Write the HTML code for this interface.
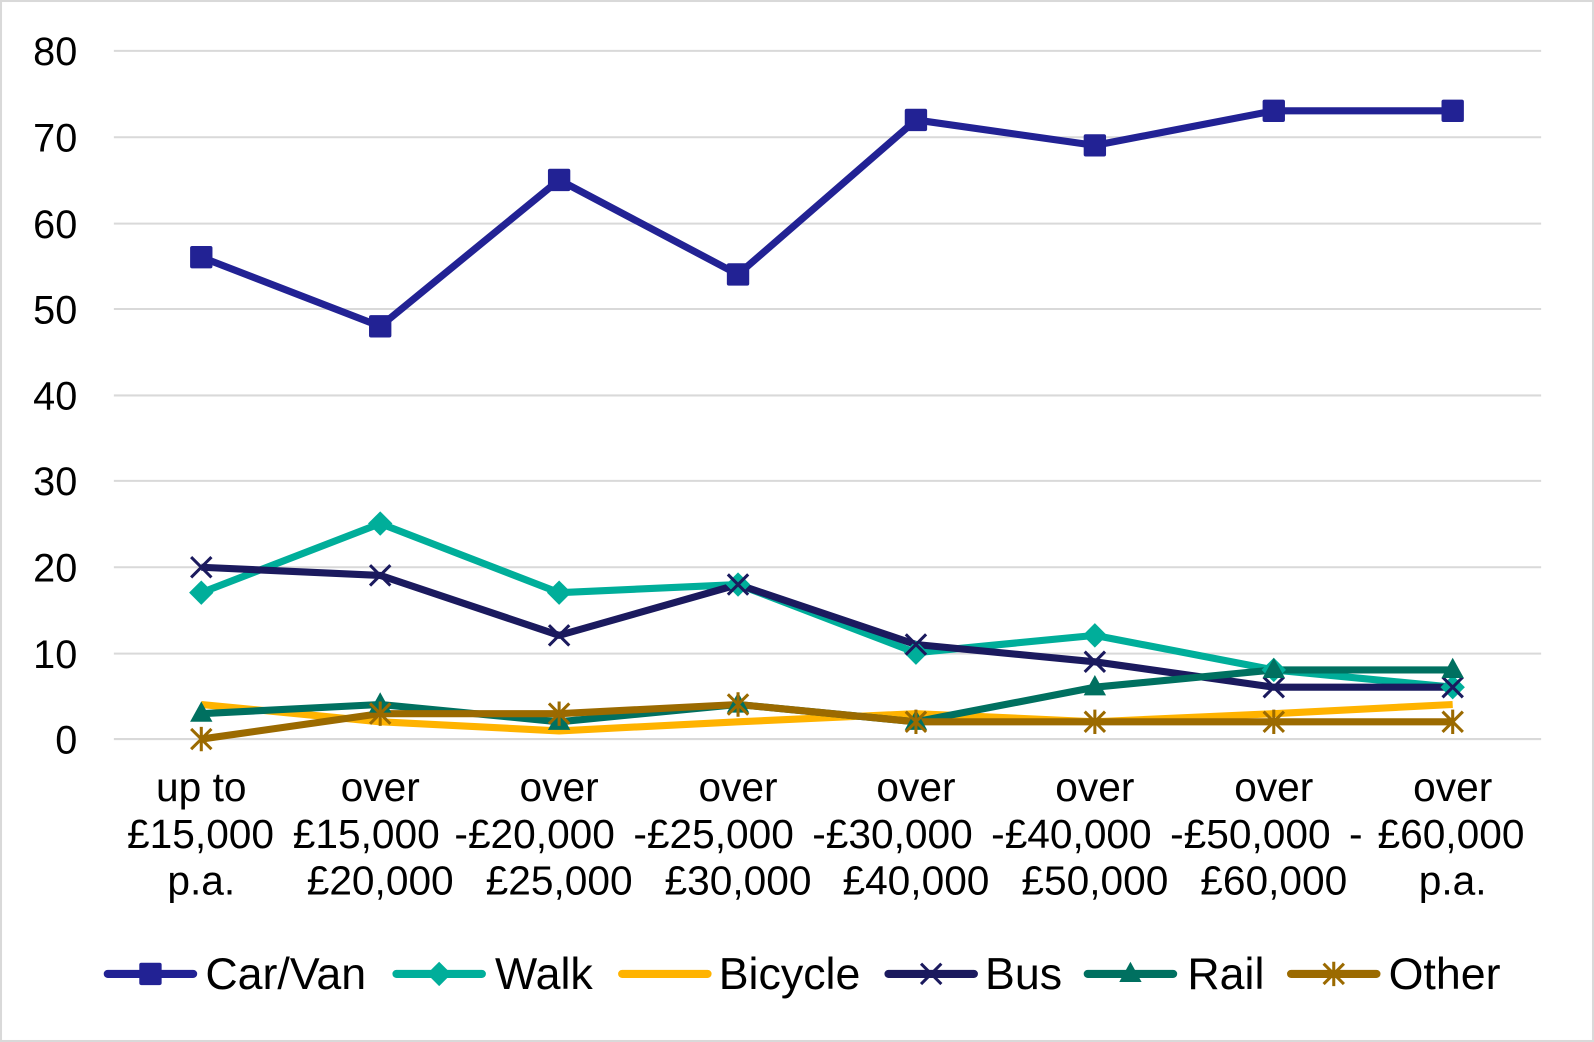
<!DOCTYPE html>
<html><head><meta charset="utf-8"><style>html,body{margin:0;padding:0;background:#fff}svg{display:block}</style></head><body>
<svg width="1594" height="1042" viewBox="0 0 1568 1025" preserveAspectRatio="none" xmlns="http://www.w3.org/2000/svg" font-family="Liberation Sans, Arial, sans-serif">
<rect x="1" y="1" width="1566" height="1023" fill="#fff" stroke="#d9d9d9" stroke-width="2"/>
<g stroke="#d9d9d9" stroke-width="2">
<line x1="112" x2="1516" y1="50" y2="50"/><line x1="112" x2="1516" y1="135" y2="135"/><line x1="112" x2="1516" y1="220" y2="220"/><line x1="112" x2="1516" y1="304" y2="304"/><line x1="112" x2="1516" y1="389" y2="389"/><line x1="112" x2="1516" y1="473" y2="473"/><line x1="112" x2="1516" y1="558" y2="558"/><line x1="112" x2="1516" y1="643" y2="643"/><line x1="112" x2="1516" y1="727" y2="727"/>
</g>
<g font-size="39" text-anchor="end" fill="#000">
<text x="76" y="64">80</text><text x="76" y="149">70</text><text x="76" y="234">60</text><text x="76" y="318">50</text><text x="76" y="403">40</text><text x="76" y="487">30</text><text x="76" y="572">20</text><text x="76" y="657">10</text><text x="76" y="741">0</text>
</g>
<g font-size="40" text-anchor="middle" fill="#000">
<text x="198" y="788">up to</text><text x="374" y="788">over</text><text x="550" y="788">over</text><text x="726" y="788">over</text><text x="901" y="788">over</text><text x="1077" y="788">over</text><text x="1253" y="788">over</text><text x="1429" y="788">over</text>
<text x="198" y="880">p.a.</text><text x="374" y="880">£20,000</text><text x="550" y="880">£25,000</text><text x="726" y="880">£30,000</text><text x="901" y="880">£40,000</text><text x="1077" y="880">£50,000</text><text x="1253" y="880">£60,000</text><text x="1429" y="880">p.a.</text>
</g>
<g font-size="40" fill="#000">
<text x="125" y="834">£15,000</text><text x="288" y="834">£15,000</text><text x="447" y="834">-£20,000</text><text x="623" y="834">-£25,000</text><text x="799" y="834">-£30,000</text><text x="975" y="834">-£40,000</text><text x="1151" y="834">-£50,000</text><text x="1327" y="834">-</text><text x="1355" y="834">£60,000</text>
</g>
<g fill="none" stroke-width="7" stroke-linejoin="round">
<polyline stroke="#ffb300" points="198,693 374,710 550,719 726,710 901,702 1077,710 1253,702 1429,693"/>
<polyline stroke="#00ae9a" points="198,583 374,515 550,583 726,575 901,642 1077,625 1253,659 1429,676"/>
<polyline stroke="#1b1a5e" points="198,558 374,566 550,625 726,575 901,634 1077,651 1253,676 1429,676"/>
<polyline stroke="#007060" points="198,702 374,693 550,710 726,693 901,710 1077,676 1253,659 1429,659"/>
<polyline stroke="#9b6a00" points="198,727 374,702 550,702 726,693 901,710 1077,710 1253,710 1429,710"/>
<polyline stroke="#222294" points="198,253 374,321 550,177 726,270 901,118 1077,143 1253,109 1429,109"/>
</g>
<g fill="#222294">
<rect x="187" y="242" width="22" height="22" rx="2"/><rect x="363" y="310" width="22" height="22" rx="2"/><rect x="539" y="166" width="22" height="22" rx="2"/><rect x="715" y="259" width="22" height="22" rx="2"/><rect x="890" y="107" width="22" height="22" rx="2"/><rect x="1066" y="132" width="22" height="22" rx="2"/><rect x="1242" y="98" width="22" height="22" rx="2"/><rect x="1418" y="98" width="22" height="22" rx="2"/>
</g>
<g fill="#00ae9a">
<path d="M198,571l12,12l-12,12l-12,-12z"/><path d="M374,503l12,12l-12,12l-12,-12z"/><path d="M550,571l12,12l-12,12l-12,-12z"/><path d="M726,563l12,12l-12,12l-12,-12z"/><path d="M901,630l12,12l-12,12l-12,-12z"/><path d="M1077,613l12,12l-12,12l-12,-12z"/><path d="M1253,647l12,12l-12,12l-12,-12z"/><path d="M1429,664l12,12l-12,12l-12,-12z"/>
</g>
<g stroke="#1b1a5e" stroke-width="3">
<path d="M188,548l20,20M208,548l-20,20"/><path d="M364,556l20,20M384,556l-20,20"/><path d="M540,615l20,20M560,615l-20,20"/><path d="M716,565l20,20M736,565l-20,20"/><path d="M891,624l20,20M911,624l-20,20"/><path d="M1067,641l20,20M1087,641l-20,20"/><path d="M1243,666l20,20M1263,666l-20,20"/><path d="M1419,666l20,20M1439,666l-20,20"/>
</g>
<g fill="#007060">
<path d="M198,690l11,20h-22z"/><path d="M374,681l11,20h-22z"/><path d="M550,698l11,20h-22z"/><path d="M726,681l11,20h-22z"/><path d="M901,698l11,20h-22z"/><path d="M1077,664l11,20h-22z"/><path d="M1253,647l11,20h-22z"/><path d="M1429,647l11,20h-22z"/>
</g>
<g stroke="#9b6a00" stroke-width="3">
<path d="M188,717l20,20M208,717l-20,20M198,715v24"/><path d="M364,692l20,20M384,692l-20,20M374,690v24"/><path d="M540,692l20,20M560,692l-20,20M550,690v24"/><path d="M716,683l20,20M736,683l-20,20M726,681v24"/><path d="M891,700l20,20M911,700l-20,20M901,698v24"/><path d="M1067,700l20,20M1087,700l-20,20M1077,698v24"/><path d="M1243,700l20,20M1263,700l-20,20M1253,698v24"/><path d="M1419,700l20,20M1439,700l-20,20M1429,698v24"/>
</g>
<g stroke-width="8" stroke-linecap="round">
<line x1="106" x2="190" y1="958" y2="958" stroke="#222294"/>
<line x1="390" x2="474" y1="958" y2="958" stroke="#00ae9a"/>
<line x1="612" x2="696" y1="958" y2="958" stroke="#ffb300"/>
<line x1="874" x2="958" y1="958" y2="958" stroke="#1b1a5e"/>
<line x1="1070" x2="1154" y1="958" y2="958" stroke="#007060"/>
<line x1="1270" x2="1354" y1="958" y2="958" stroke="#9b6a00"/>
</g>
<rect x="137" y="947" width="22" height="22" rx="2" fill="#222294"/>
<path d="M432,946l12,12l-12,12l-12,-12z" fill="#00ae9a"/>
<path d="M906,948l20,20M926,948l-20,20" stroke="#1b1a5e" stroke-width="3"/>
<path d="M1112,946l11,20h-22z" fill="#007060"/>
<path d="M1302,948l20,20M1322,948l-20,20M1312,946v24" stroke="#9b6a00" stroke-width="3"/>
<g font-size="44" fill="#000">
<text x="202" y="973">Car/Van</text><text x="487" y="973">Walk</text><text x="707" y="973">Bicycle</text><text x="969" y="973">Bus</text><text x="1168" y="973">Rail</text><text x="1366" y="973">Other</text>
</g>
</svg>
</body></html>
